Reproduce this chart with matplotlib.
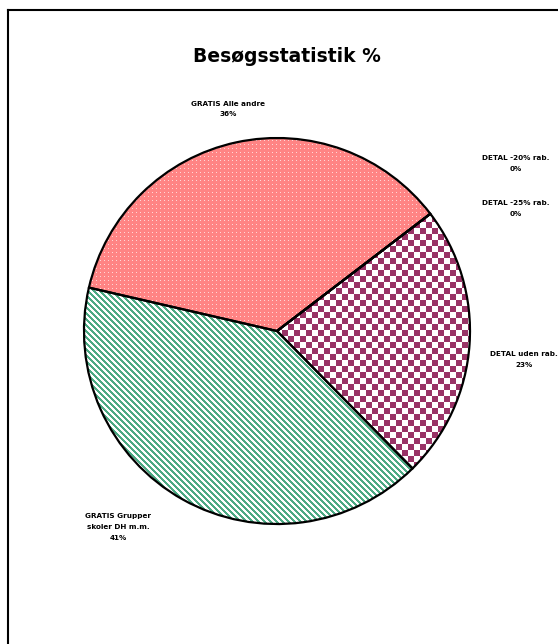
import numpy as np
import matplotlib
matplotlib.use('Agg')
import matplotlib.pyplot as plt
from matplotlib.lines import Line2D

# slices in clockwise order, as in the original sheet
labels = ['GRATIS Alle andre', 'DETAL -20% rab.', 'DETAL -25% rab.', 'DETAL uden rab.', 'GRATIS Grupper\nskoler DH m.m.']
values = [36, 0, 0, 23, 41]
pct_text = ['36%', '0%', '0%', '23%', '41%']
title = 'Besøgsstatistik %'

W, H = 558, 644
fig = plt.figure(figsize=(W / 100, H / 100), dpi=100)
ax = fig.add_axes([0.1505, 0.1863, 0.6918, 0.5994])
ax.set_zorder(1)

wedges, _ = ax.pie(values, startangle=167, counterclock=False, radius=1,
                   colors=['none'] * len(values),
                   wedgeprops=dict(edgecolor='black', linewidth=1.6))
ax.set_xlim(-1, 1)
ax.set_ylim(-1, 1)
ax.set_aspect('equal')
ax.axis('off')
ax.patch.set_visible(False)

# pixel textures for fill patterns (whole figure, no resampling)
ii, jj = np.mgrid[0:H, 0:W]

def rgb(h):
    return np.array(matplotlib.colors.to_rgb(h))

pink = np.ones((H, W, 3)) * rgb('#FF8484')
dots = (ii % 4 == 0) & (jj % 4 == 0)
pink[dots] = rgb('#FFD6D6')

checker = np.ones((H, W, 3))
sq = ((ii // 6) + (jj // 6)) % 2 == 0
checker[sq] = rgb('#993366')

green = np.ones((H, W, 3))
stripe = ((jj - ii) % 6) < 3
green[stripe] = rgb('#4DAA84')

textures = [pink, None, None, checker, green]
for w, tex in zip(wedges, textures):
    if tex is None:
        continue
    im = fig.figimage(tex, xo=0, yo=0, origin='upper', zorder=0)
    im.set_clip_path(w)

fig.text(0.515, 0.912, title, ha='center', va='center', fontsize=13.5,
         fontweight='bold', family='DejaVu Sans')

# label positions in figure pixels (x, y from top)
label_pos = [(228, 109), (516, 164), (516, 209), (524, 360), (118, 527)]
for lab, pc, (px, py) in zip(labels, pct_text, label_pos):
    fig.text(px / W, 1 - py / H, lab + '\n' + pc, ha='center', va='center',
             fontsize=5.2, fontweight='bold', linespacing=2.0, family='DejaVu Sans')

fig.add_artist(Line2D([8 / W, 8 / W], [0, 1 - 10 / H], color='black', lw=1.5,
                      transform=fig.transFigure))
fig.add_artist(Line2D([8 / W, 1], [1 - 10 / H, 1 - 10 / H], color='black', lw=1.5,
                      transform=fig.transFigure))

fig.savefig('out.png', dpi=100)
